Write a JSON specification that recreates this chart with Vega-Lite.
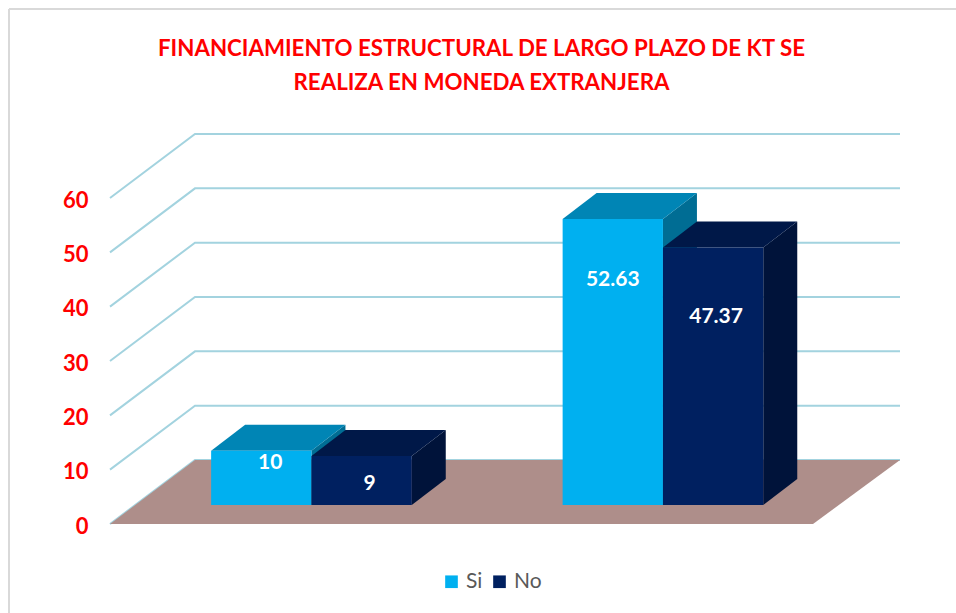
{
"$schema":"https://vega.github.io/schema/vega-lite/v6.json",
"autosize":"none",
"width":703,"height":326,
"padding":{"left":110,"top":198,"right":143,"bottom":89},
"background":"white",
"title":{"text":["FINANCIAMIENTO ESTRUCTURAL DE LARGO PLAZO DE KT SE","REALIZA EN MONEDA EXTRANJERA"],"anchor":"middle","frame":"group","dx":20,"offset":-86,"font":"Lato","fontSize":22.3,"fontWeight":"bold","color":"#ff0000","lineHeight":34},
"config":{"view":{"stroke":null},"font":"Lato"},
"datasets":{
"barras":[
{"grupo":1,"serie":"Si","valor":10},
{"grupo":1,"serie":"No","valor":9},
{"grupo":2,"serie":"Si","valor":52.63},
{"grupo":2,"serie":"No","valor":47.37}],
"marcas":[{"marca":0},{"marca":10},{"marca":20},{"marca":30},{"marca":40},{"marca":50},{"marca":60}]
},
"layer":[
{"data":{"values":[{"borde":"arriba"}]},"mark":{"type":"rule","color":"#d9d9d9","strokeWidth":2,"clip":false},"encoding":{"x":{"value":-101},"x2":{"value":846},"y":{"value":-189}}},
{"data":{"values":[{"borde":"izquierda"}]},"mark":{"type":"rule","color":"#d9d9d9","strokeWidth":2,"clip":false},"encoding":{"x":{"value":-101},"y":{"value":-189},"y2":{"value":415}}},
{"data":{"name":"marcas"},"mark":{"type":"point","filled":false,"size":4,"opacity":1,"stroke":"#a3d3df","strokeWidth":2,"shape":"M0,0L85,-64L790,-64","clip":false},"encoding":{"x":{"value":0},"y":{"field":"marca","type":"quantitative","title":null,"scale":{"domain":[0,60],"nice":false},"axis":{"values":[0,10,20,30,40,50,60],"grid":false,"domain":false,"ticks":false,"labelPadding":22,"labelOffset":2,"labelFont":"Lato","labelFontSize":22,"labelFontWeight":"bold","labelColor":"#ff0000"}}}},
{"data":{"values":[{"marca":0}]},"mark":{"type":"point","filled":true,"size":4,"opacity":1,"fill":"#ae8e8a","stroke":null,"shape":"M0,0L85,-64L790,-64L703,0Z","clip":false},"encoding":{"x":{"value":0},"y":{"field":"marca","type":"quantitative","title":null}}},
{"data":{"name":"barras"},"transform":[{"filter":"datum.serie=='Si'"}],"mark":{"type":"point","filled":true,"size":4,"opacity":1,"fill":"#006d94","stroke":null,"yOffset":-19},"encoding":{"x":{"field":"grupo","type":"ordinal","axis":null,"scale":{"domain":[1,2],"range":[25.7,728.7],"paddingInner":0,"paddingOuter":0}},"xOffset":{"field":"serie","type":"nominal","scale":{"domain":["Si","No"],"paddingInner":0,"paddingOuter":0.752}},"y":{"field":"valor","type":"quantitative","title":null},"shape":{"field":"valor","type":"nominal","legend":null,"scale":{"domain":[10,9,52.63,47.37],"range":["M50.15,0L84.15,-26L84.15,28.3L50.15,54.3Z","M50.15,0L84.15,-26L84.15,22.9L50.15,48.9Z","M50.15,0L84.15,-26L84.15,260L50.15,286Z","M50.15,0L84.15,-26L84.15,231.4L50.15,257.4Z"]}}}},
{"data":{"name":"barras"},"transform":[{"filter":"datum.serie=='Si'"}],"mark":{"type":"point","filled":true,"size":4,"opacity":1,"fill":"#0085b5","stroke":null,"yOffset":-19,"shape":"M-50.15,0L-16.15,-26L84.15,-26L50.15,0Z"},"encoding":{"x":{"field":"grupo","type":"ordinal","axis":null},"xOffset":{"field":"serie","type":"nominal"},"y":{"field":"valor","type":"quantitative","title":null}}},
{"data":{"name":"barras"},"transform":[{"filter":"datum.serie=='No'"}],"mark":{"type":"point","filled":true,"size":4,"opacity":1,"fill":"#00133a","stroke":null,"yOffset":-19},"encoding":{"x":{"field":"grupo","type":"ordinal","axis":null},"xOffset":{"field":"serie","type":"nominal"},"y":{"field":"valor","type":"quantitative","title":null},"shape":{"field":"valor","type":"nominal","legend":null}}},
{"data":{"name":"barras"},"transform":[{"filter":"datum.serie=='No'"}],"mark":{"type":"point","filled":true,"size":4,"opacity":1,"fill":"#001848","stroke":null,"yOffset":-19,"shape":"M-50.15,0L-16.15,-26L84.15,-26L50.15,0Z"},"encoding":{"x":{"field":"grupo","type":"ordinal","axis":null},"xOffset":{"field":"serie","type":"nominal"},"y":{"field":"valor","type":"quantitative","title":null}}},
{"data":{"name":"barras"},"mark":{"type":"bar","yOffset":-19,"y2Offset":-19},"encoding":{"x":{"field":"grupo","type":"ordinal","axis":null},"xOffset":{"field":"serie","type":"nominal"},"y":{"field":"valor","type":"quantitative","title":null},"y2":{"datum":0},"color":{"field":"serie","type":"nominal","scale":{"domain":["Si","No"],"range":["#00b0f0","#002060"]},"legend":{"title":null,"orient":"none","legendX":331,"legendY":373,"direction":"horizontal","symbolType":"square","symbolSize":160,"symbolStrokeWidth":0,"labelFont":"Lato","labelFontSize":21,"labelColor":"#595959","columnPadding":6}}}},
{"data":{"name":"barras"},"transform":[{"filter":"datum.valor==10"}],"mark":{"type":"text","font":"Lato","fontSize":21,"fontWeight":"bold","color":"white","dx":9,"dy":-7},"encoding":{"x":{"field":"grupo","type":"ordinal","axis":null},"xOffset":{"field":"serie","type":"nominal"},"y":{"field":"valor","type":"quantitative","title":null},"text":{"field":"valor","type":"quantitative"}}},
{"data":{"name":"barras"},"transform":[{"filter":"datum.valor==9"}],"mark":{"type":"text","font":"Lato","fontSize":21,"fontWeight":"bold","color":"white","dx":8,"dy":9},"encoding":{"x":{"field":"grupo","type":"ordinal","axis":null},"xOffset":{"field":"serie","type":"nominal"},"y":{"field":"valor","type":"quantitative","title":null},"text":{"field":"valor","type":"quantitative"}}},
{"data":{"name":"barras"},"transform":[{"filter":"datum.valor==52.63"}],"mark":{"type":"text","font":"Lato","fontSize":21,"fontWeight":"bold","color":"white","dx":0,"dy":42},"encoding":{"x":{"field":"grupo","type":"ordinal","axis":null},"xOffset":{"field":"serie","type":"nominal"},"y":{"field":"valor","type":"quantitative","title":null},"text":{"field":"valor","type":"quantitative"}}},
{"data":{"name":"barras"},"transform":[{"filter":"datum.valor==47.37"}],"mark":{"type":"text","font":"Lato","fontSize":21,"fontWeight":"bold","color":"white","dx":3,"dy":50},"encoding":{"x":{"field":"grupo","type":"ordinal","axis":null},"xOffset":{"field":"serie","type":"nominal"},"y":{"field":"valor","type":"quantitative","title":null},"text":{"field":"valor","type":"quantitative"}}}
]
}
